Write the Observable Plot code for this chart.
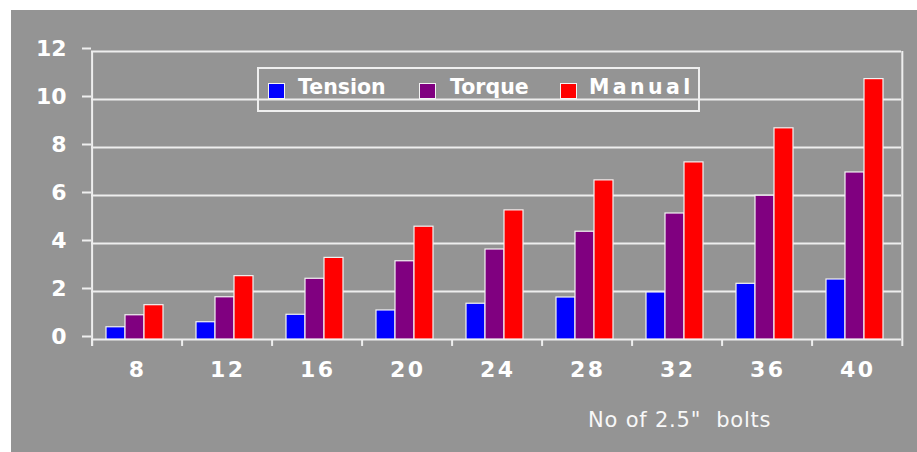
<!DOCTYPE html>
<html>
<head>
<meta charset="utf-8">
<script src="https://cdn.jsdelivr.net/npm/d3@7"></script>
<script src="https://cdn.jsdelivr.net/npm/@observablehq/plot@0.6"></script>
<style>
  html, body { margin: 0; padding: 0; background: #ffffff; }
  #wrap { position: relative; width: 917px; height: 452px; overflow: hidden; }
  #panel { position: absolute; left: 11px; top: 10px; width: 906px; height: 442px; background: #949494; }
  #chart { position: absolute; left: 0; top: 0; }
  #chart svg text { font-family: "DejaVu Sans", sans-serif; font-weight: bold; font-size: 22px; fill: #ffffff; }
  #chart svg g[aria-label="fx-axis tick label"] text { letter-spacing: 2.5px; }
  #legend { position: absolute; left: 246px; top: 57px; width: 443px; height: 45px; box-sizing: border-box;
            border: 2px solid #efefef; }
  .sw { position: absolute; top: 14px; width: 17px; height: 16px; box-sizing: border-box; border: 1px solid #f4f4f4; }
  .lt { position: absolute; top: 8px; font-family: "DejaVu Sans", sans-serif; font-weight: bold; font-size: 20.5px;
        line-height: 20.5px; color: #ffffff; white-space: nowrap; }
  #xtitle { position: absolute; left: 577px; top: 400px; font-family: "DejaVu Sans", sans-serif; font-size: 21px;
            line-height: 21px; color: #f8f8f8; white-space: pre; letter-spacing: 0.8px; }
</style>
</head>
<body>
<div id="wrap"><div id="panel">
  <div id="chart"></div>
  <div id="legend"></div>
  <div id="xtitle"></div>
</div></div>
<script>
// ---- data ----
const bolts = ["8", "12", "16", "20", "24", "28", "32", "36", "40"];
const series = ["Tension", "Torque", "Manual"];
const tension = [0.51, 0.72, 1.03, 1.21, 1.49, 1.75, 1.96, 2.32, 2.5];
const torque  = [1.01, 1.76, 2.53, 3.26, 3.75, 4.49, 5.25, 5.99, 6.96];
const manual  = [1.43, 2.64, 3.4, 4.7, 5.38, 6.63, 7.38, 8.8, 10.85];
const yTicks = [0, 2, 4, 6, 8, 10, 12];
const colors = ["#0000ff", "#800080", "#ff0000"];
const xTitle = "No of 2.5\"  bolts";

// ---- long table for Plot ----
const valuesBySeries = [tension, torque, manual];
const data = bolts.flatMap((b, i) => series.map((s, k) => ({bolts: b, series: s, value: valuesBySeries[k][i]})));

// ---- layout ----
const W = 906, H = 442, ML = 79, MR = 15, MT = 41, MB = 113;
const po = 0.78, al = 0.454;
const fw = (W - ML - MR) / bolts.length;
const step = fw / (series.length + 2 * po);
const start = (fw - series.length * step) * al;
const leftDx = -(start + step / 2);
const rightDx = fw - start - step / 2;
const below = -0.29;
const lineColor = "#eeeeee";

const chart = Plot.plot({
  width: W, height: H,
  marginLeft: ML, marginRight: MR, marginTop: MT, marginBottom: MB,
  style: {background: "transparent", color: "#ffffff", overflow: "visible"},
  fx: {domain: bolts, padding: 0, label: null},
  x: {domain: series, paddingInner: 0, paddingOuter: po, align: al, axis: null},
  y: {domain: [0, 12], label: null},
  color: {domain: series, range: colors},
  marks: [
    Plot.ruleY(yTicks, {stroke: lineColor, strokeWidth: 2}),
    Plot.axisY({ticks: yTicks, tickSize: 9, tickPadding: 16, stroke: lineColor, strokeWidth: 2, dy: -3, label: null}),
    Plot.ruleX(bolts, {fx: d => d, x: () => series[0], y1: 0, y2: below, dx: leftDx, stroke: lineColor, strokeWidth: 2}),
    Plot.ruleX([bolts[0]], {fx: d => d, x: () => series[0], y1: 12, y2: below, dx: leftDx, stroke: lineColor, strokeWidth: 2}),
    Plot.ruleX([bolts[bolts.length - 1]], {fx: d => d, x: () => series[0], y1: 12, y2: below, dx: rightDx, stroke: lineColor, strokeWidth: 2}),
    Plot.barY(data, {fx: "bolts", x: "series", y: "value", fill: "series", stroke: "#f2f2f2", strokeWidth: 1.2}),
    Plot.axisFx({anchor: "bottom", tickSize: 0, tickPadding: 22, dx: 1.25, label: null})
  ]
});
document.getElementById("chart").appendChild(chart);

// ---- legend ----
const legend = document.getElementById("legend");
const swLeft = [9, 160, 301];
const txLeft = [39, 191, 330];
const txSpacing = ["0px", "0px", "3.4px"];
series.forEach((s, k) => {
  const sw = document.createElement("div");
  sw.className = "sw";
  sw.style.left = swLeft[k] + "px";
  sw.style.background = colors[k];
  legend.appendChild(sw);
  const t = document.createElement("div");
  t.className = "lt";
  t.style.left = txLeft[k] + "px";
  t.style.letterSpacing = txSpacing[k];
  t.textContent = s;
  legend.appendChild(t);
});
document.getElementById("xtitle").textContent = xTitle;
</script>
</body>
</html>
